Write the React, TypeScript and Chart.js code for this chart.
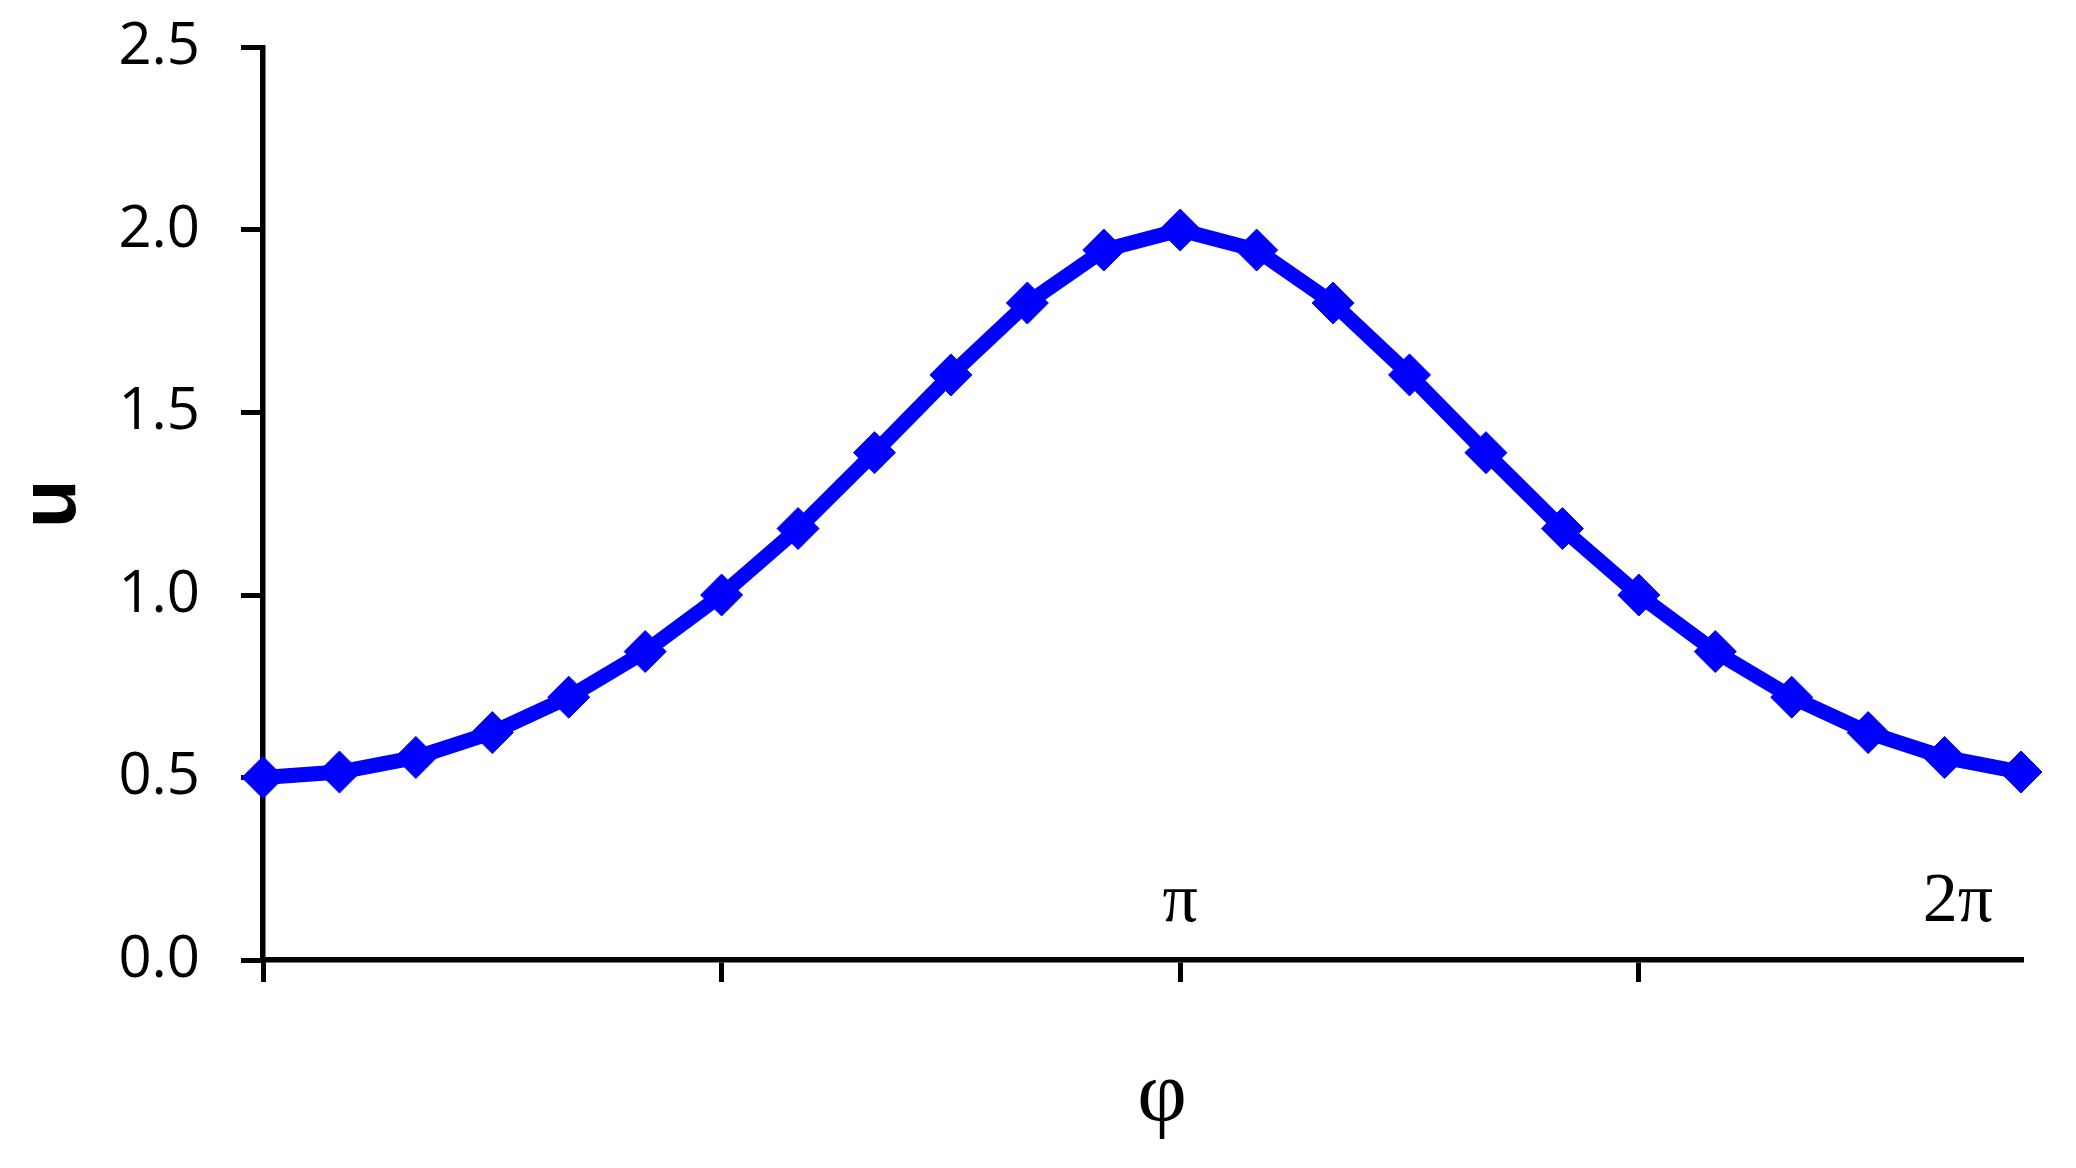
import React, { useEffect, useRef } from "react";
import { Chart, registerables } from "chart.js";

Chart.register(...registerables);

// φ sample index (step of π/12)
const phiSteps = [0, 1, 2, 3, 4, 5, 6, 7, 8, 9, 10, 11, 12, 13, 14, 15, 16, 17, 18, 19, 20, 21, 22, 23];
// u values
const uValues = [0.5, 0.515, 0.555, 0.623, 0.72, 0.845, 1.0, 1.182, 1.39, 1.603, 1.8, 1.945, 2.0, 1.945, 1.8, 1.603, 1.39, 1.182, 1.0, 0.845, 0.72, 0.623, 0.555, 0.515];
const xTickSteps = [0, 6, 12, 18];
const yTickValues = [0, 0.5, 1.0, 1.5, 2.0, 2.5];
const piLabel = "π";
const twoPiLabel = "2π";
const xTitle = "φ";
const yTitle = "u";

const textPlugin = {
  id: "customTexts",
  afterDraw(chart: any) {
    const { ctx, chartArea, scales } = chart;
    ctx.save();
    ctx.fillStyle = "#000";
    // y title
    ctx.save();
    ctx.font = 'bold 80px "Liberation Sans"';
    ctx.textAlign = "center";
    ctx.textBaseline = "alphabetic";
    ctx.translate(75, (chartArea.top + chartArea.bottom) / 2);
    ctx.rotate(-Math.PI / 2);
    ctx.fillText(yTitle, 0, 0);
    ctx.restore();
    // x title
    ctx.font = '86px "Liberation Serif"';
    ctx.textAlign = "center";
    ctx.textBaseline = "alphabetic";
    ctx.fillText(xTitle, 1162, 1120);
    // π labels
    ctx.font = '70px "Liberation Serif"';
    ctx.fillText(piLabel, scales.x.getPixelForValue(12), chartArea.bottom - 39);
    ctx.fillText(twoPiLabel, chartArea.right - 63, chartArea.bottom - 39);
    ctx.restore();
  },
};

export default function App() {
  const canvasRef = useRef<HTMLCanvasElement>(null);
  useEffect(() => {
    const canvas = canvasRef.current;
    if (!canvas) return;
    const chart = new Chart(canvas, {
      type: "line",
      data: {
        datasets: [
          {
            data: phiSteps.map((s, i) => ({ x: s, y: uValues[i] })),
            borderColor: "#0000FF",
            backgroundColor: "#0000FF",
            borderWidth: 15,
            pointStyle: "rectRot",
            pointRadius: 21,
            pointBorderWidth: 1,
            pointBorderColor: "#0000FF",
            pointBackgroundColor: "#0000FF",
            tension: 0,
            clip: false as any,
          },
        ],
      },
      options: {
        animation: false,
        responsive: false,
        events: [],
        layout: { autoPadding: false, padding: { top: 47.5, right: 55, left: 0, bottom: 0 } },
        plugins: { legend: { display: false }, tooltip: { enabled: false } },
        scales: {
          x: {
            type: "linear",
            min: 0,
            max: 23,
            afterBuildTicks: (scale: any) => {
              scale.ticks = xTickSteps.map((v) => ({ value: v }));
            },
            afterFit: (scale: any) => {
              scale.height = 208;
              scale.paddingLeft = 0;
              scale.paddingRight = 0;
            },
            ticks: { callback: () => "", padding: 0 },
            grid: {
              drawOnChartArea: false,
              drawTicks: true,
              tickLength: 22,
              color: "#000",
              lineWidth: 5,
            },
            border: { display: true, color: "#000", width: 5.5 },
          },
          y: {
            type: "linear",
            min: 0,
            max: 2.5,
            afterBuildTicks: (scale: any) => {
              scale.ticks = yTickValues.map((v) => ({ value: v }));
            },
            afterFit: (scale: any) => {
              scale.width = 263;
              scale.paddingTop = 20;
              scale.paddingBottom = 20;
            },
            ticks: {
              callback: (v: any) => Number(v).toFixed(1),
              font: { family: '"Open Sans"', size: 58 },
              color: "#000",
              padding: 41,
            },
            grid: {
              drawOnChartArea: false,
              drawTicks: true,
              tickLength: 22,
              color: "#000",
              lineWidth: 5,
            },
            border: { display: true, color: "#000", width: 5.5 },
          },
        },
      },
      plugins: [textPlugin],
    });
    return () => chart.destroy();
  }, []);
  return (
    <div style={{ position: "absolute", left: 0, top: 0, width: 2076, height: 1168, background: "#fff" }}>
      <canvas ref={canvasRef} width={2076} height={1168} style={{ width: 2076, height: 1168, display: "block" }} />
    </div>
  );
}
